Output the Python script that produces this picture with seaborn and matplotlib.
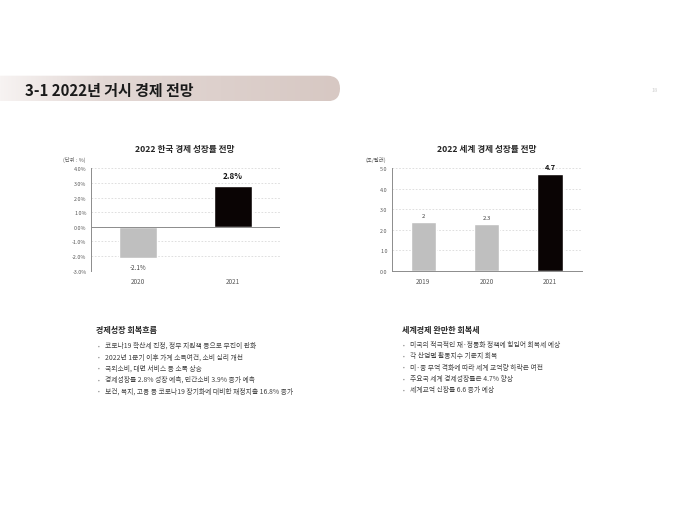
import numpy as np
import matplotlib
matplotlib.use("Agg")
import matplotlib.pyplot as plt
import seaborn as sns
from matplotlib.colors import LinearSegmentedColormap
from matplotlib.patches import FancyBboxPatch

# data
kor_years = ["2020", "2021"]
kor_growth = [-2.1, 2.8]
kor_labels = ["-2.1%", "2.8%"]
kor_ticks = [-3, -2, -1, 0, 1, 2, 3, 4]

world_years = ["2019", "2020", "2021"]
world_growth = [2.4, 2.3, 4.7]
world_labels = ["2", "2.3", "4.7"]
world_ticks = [0, 1, 2, 3, 4, 5]

left_points = [
    "코로나19 확산세 진정, 정부 지원책 등으로 부진이 완화",
    "2022년 1분기 이후 가계 소득여건, 소비 심리 개선",
    "국외소비, 대면 서비스 등 소폭 상승",
    "경제성장률 2.8% 성장 예측, 민간소비 3.9% 증가 예측",
    "보건, 복지, 고용 등 코로나19 장기화에 대비한 재정지출 16.8% 증가",
]
right_points = [
    "미국의 적극적인 재·정통화 정책에 힘입어 회복세 예상",
    "각 산업별 활동지수 기준치 회복",
    "미·중 무역 격화에 따라 세계 교역량 하락은 여전",
    "주요국 세계 경제성장률은 4.7% 향상",
    "세계교역 신장률 6.6 증가 예상",
]

sns.set_style("white")
plt.rcParams["font.family"] = ["Noto Sans CJK KR", "DejaVu Sans"]

W, H = 680, 510
fig = plt.figure(figsize=(6.8, 5.1), dpi=100)

def fx(x):
    return x / W

def fy(y):
    return 1 - y / H

# header bar with gradient
bg = fig.add_axes([0, 0, 1, 1], zorder=-1)
bg.set_xlim(0, W)
bg.set_ylim(H, 0)
bg.axis("off")
cmap = LinearSegmentedColormap.from_list("hdr", [(0, "#f7f3f2"), (0.3, "#e3d8d5"), (1, "#d7c8c3")])
grad = np.linspace(0, 1, 256).reshape(1, -1)
im = bg.imshow(grad, cmap=cmap, extent=[0, 340, 102.3, 76.7], aspect="auto")
clip = FancyBboxPatch((-30, 76.7), 370, 25.6, boxstyle="round,pad=0,rounding_size=12.8",
                      transform=bg.transData, facecolor="none", edgecolor="none")
bg.add_patch(clip)
im.set_clip_path(clip)
bg.set_xlim(0, W)
bg.set_ylim(H, 0)

fig.text(fx(25), fy(90.5), "3-1 2022년 거시 경제 전망", fontsize=10.8, fontweight="bold",
         color="#1a1a1a", va="center", ha="left")
fig.text(fx(655), fy(90), "18", fontsize=4, color="#d0d0d0", va="center", ha="center")

grey = "#bfbfbf"
dark = "#0b0303"
grid_c = "#d9d9d9"
axis_c = "#8c8c8c"
tick_c = "#595959"


def style_axes(ax, ticks, fmt):
    ax.set_yticks(ticks)
    ax.set_yticklabels([fmt.format(t) for t in ticks])
    ax.set_ylim(ticks[0], ticks[-1])
    for t in ticks:
        ax.axhline(t, color=grid_c, linewidth=0.6, linestyle=(0, (2, 2)), zorder=0)
    for s in ["top", "right", "bottom"]:
        ax.spines[s].set_visible(False)
    ax.spines["left"].set_color(axis_c)
    ax.spines["left"].set_linewidth(0.7)
    ax.tick_params(axis="y", length=0, pad=3, labelsize=3.9, labelcolor=tick_c)
    ax.tick_params(axis="x", length=0, pad=4.5, labelsize=4.6, labelcolor=tick_c)
    ax.set_xlabel("")
    ax.set_ylabel("")


# Korea chart
ax1 = fig.add_axes([fx(90.7), fy(271.7), (280 - 90.7) / W, 102.4 / H])
sns.barplot(x=kor_years, y=kor_growth, hue=kor_years, palette=[grey, dark],
            legend=False, width=0.4, ax=ax1, zorder=2)
style_axes(ax1, kor_ticks, "{:.1f}%")
ax1.axhline(0, color=axis_c, linewidth=0.7, zorder=3)
for i, (v, lab) in enumerate(zip(kor_growth, kor_labels)):
    bold = i == len(kor_growth) - 1
    ax1.annotate(lab, (i, v), xytext=(0, 4 if v > 0 else -4), textcoords="offset points",
                 ha="center", va="bottom" if v > 0 else "top",
                 fontsize=5.8 if bold else 4.5, fontweight="bold" if bold else "normal",
                 color="#111111" if bold else "#404040")
fig.text(fx(185), fy(149.3), "2022 한국 경제 성장률 전망", fontsize=6.2, fontweight="bold",
         ha="center", va="center", color="#262626")
fig.text(fx(63), fy(160), "(단위 : %)", fontsize=3.9, ha="left", va="center", color=tick_c)

# World chart
ax2 = fig.add_axes([fx(391.7), fy(272), (581.7 - 391.7) / W, 102.7 / H])
sns.barplot(x=world_years, y=world_growth, hue=world_years, palette=[grey, grey, dark],
            legend=False, width=0.4, ax=ax2, zorder=2)
style_axes(ax2, world_ticks, "{:.1f}")
ax2.spines["bottom"].set_visible(True)
ax2.spines["bottom"].set_color(axis_c)
ax2.spines["bottom"].set_linewidth(0.7)
ax2.spines["bottom"].set_zorder(3)
for i, (v, lab) in enumerate(zip(world_growth, world_labels)):
    bold = i == len(world_growth) - 1
    ax2.annotate(lab, (i, v), xytext=(0, 3), textcoords="offset points",
                 ha="center", va="bottom",
                 fontsize=5.4 if bold else 4.3, fontweight="bold" if bold else "normal",
                 color="#111111" if bold else "#404040")
fig.text(fx(486.7), fy(149.3), "2022 세계 경제 성장률 전망", fontsize=6.2, fontweight="bold",
         ha="center", va="center", color="#262626")
fig.text(fx(365), fy(160), "(조/달러)", fontsize=3.9, ha="left", va="center", color=tick_c)

# bullet text blocks
def bullets(x_head, x_dot, x_text, heading, items, y0):
    fig.text(fx(x_head), fy(330), heading, fontsize=5.8, fontweight="bold",
             ha="left", va="center", color="#262626")
    for k, s in enumerate(items):
        y = y0 + k * 11.3
        fig.text(fx(x_dot), fy(y), "•", fontsize=3.5, ha="left", va="center", color="#7f7f7f")
        fig.text(fx(x_text), fy(y), s, fontsize=4.9, ha="left", va="center", color="#404040")


bullets(96, 97.5, 105, "경제성장 회복흐름", left_points, 346)
bullets(401.7, 403, 410, "세계경제 완만한 회복세", right_points, 345)

fig.savefig("out.png", dpi=100, facecolor="white")
